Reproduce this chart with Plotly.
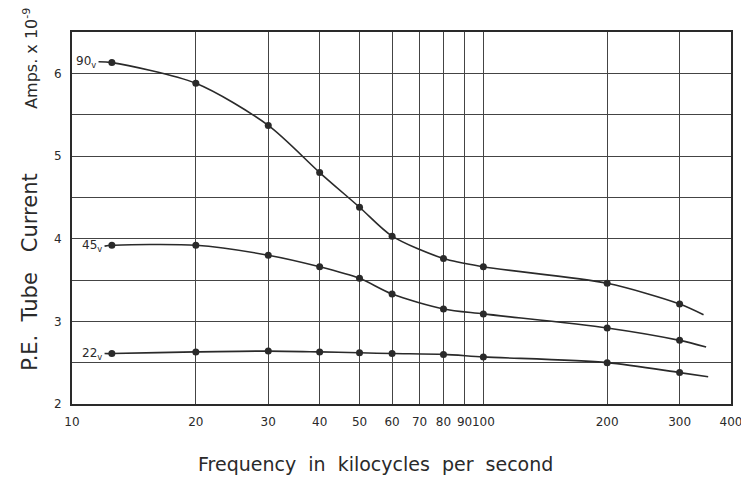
import math
import plotly.graph_objects as go

# frequency (kc/s) of the measured points
freq = [12.5, 20, 30, 40, 50, 60, 80, 100, 200, 300]

# P.E. tube current, amps x 10^-9
i_90v = [6.13, 5.88, 5.37, 4.80, 4.38, 4.03, 3.76, 3.66, 3.46, 3.21]
i_45v = [3.92, 3.92, 3.80, 3.66, 3.52, 3.33, 3.15, 3.09, 2.92, 2.77]
i_22v = [2.61, 2.63, 2.64, 2.63, 2.62, 2.61, 2.60, 2.57, 2.50, 2.38]

# where the hand-drawn curves start and stop (beyond the measured points)
curve_start_f = [11.6, 12.0, 12.0]
curve_end_f = [343, 348, 352]
curve_start_i = [6.14, 3.91, 2.61]
curve_end_i = [3.08, 2.69, 2.33]

labels = ["90", "45", "22"]
series = [i_90v, i_45v, i_22v]

x_ticks = [10, 20, 30, 40, 50, 60, 70, 80, 90, 100, 200, 300, 400]
y_ticks = [2, 2.5, 3, 3.5, 4, 4.5, 5, 5.5, 6, 6.5]
y_text = ["2", "", "3", "", "4", "", "5", "", "6", ""]

ink = "#2a2a2a"
font = "DejaVu Sans"

fig = go.Figure()

for k, ys in enumerate(series):
    cx = [curve_start_f[k]] + freq + [curve_end_f[k]]
    cy = [curve_start_i[k]] + ys + [curve_end_i[k]]
    fig.add_trace(go.Scatter(
        x=cx, y=cy, mode="lines",
        line=dict(color=ink, width=1.6, shape="spline", smoothing=0.8),
        hoverinfo="skip", showlegend=False,
    ))
    fig.add_trace(go.Scatter(
        x=freq, y=ys, mode="markers",
        marker=dict(color=ink, size=7, symbol="circle"),
        name=labels[k] + " v", showlegend=False,
    ))
    fig.add_annotation(
        x=math.log10(curve_start_f[k]), y=curve_start_i[k], xref="x", yref="y",
        text=labels[k] + "<sub>v</sub>", showarrow=False,
        xanchor="right", yanchor="middle", xshift=-1,
        font=dict(family=font, size=12, color=ink),
    )

fig.update_xaxes(
    type="log", range=[1, 2.60206],
    tickvals=x_ticks, ticktext=[str(v) for v in x_ticks],
    tickangle=0, automargin=False, ticklabelstandoff=6,
    showgrid=True, gridcolor="#444", gridwidth=1.3,
    showline=True, linecolor=ink, linewidth=2, mirror=True,
    ticks="", zeroline=False,
    tickfont=dict(family=font, size=12, color=ink),
)
fig.update_yaxes(
    range=[2, 6.5], automargin=False, ticklabelstandoff=6,
    tickvals=y_ticks, ticktext=y_text,
    showgrid=True, gridcolor="#444", gridwidth=1.3,
    showline=True, linecolor=ink, linewidth=2, mirror=True,
    ticks="", zeroline=False,
    tickfont=dict(family=font, size=12, color=ink),
)

fig.add_annotation(
    x=0.46, y=-0.16, xref="paper", yref="paper",
    text="Frequency  in  kilocycles  per  second", showarrow=False,
    xanchor="center", yanchor="middle",
    font=dict(family=font, size=19, color=ink),
)
fig.add_annotation(
    x=-0.064, y=0.355, xref="paper", yref="paper",
    text="P.E.  Tube   Current", textangle=-90, showarrow=False,
    xanchor="center", yanchor="middle",
    font=dict(family=font, size=21, color=ink),
)
fig.add_annotation(
    x=-0.064, y=0.93, xref="paper", yref="paper",
    text="Amps. x 10<sup>-9</sup>", textangle=-90, showarrow=False,
    xanchor="center", yanchor="middle",
    font=dict(family=font, size=16, color=ink),
)

# the page body adds an 8px offset, so margins are shifted to compensate
fig.update_layout(
    width=749, height=485,
    margin=dict(l=64, r=26, t=24, b=89),
    paper_bgcolor="white", plot_bgcolor="white",
    showlegend=False,
)

fig.write_html("out.html")
